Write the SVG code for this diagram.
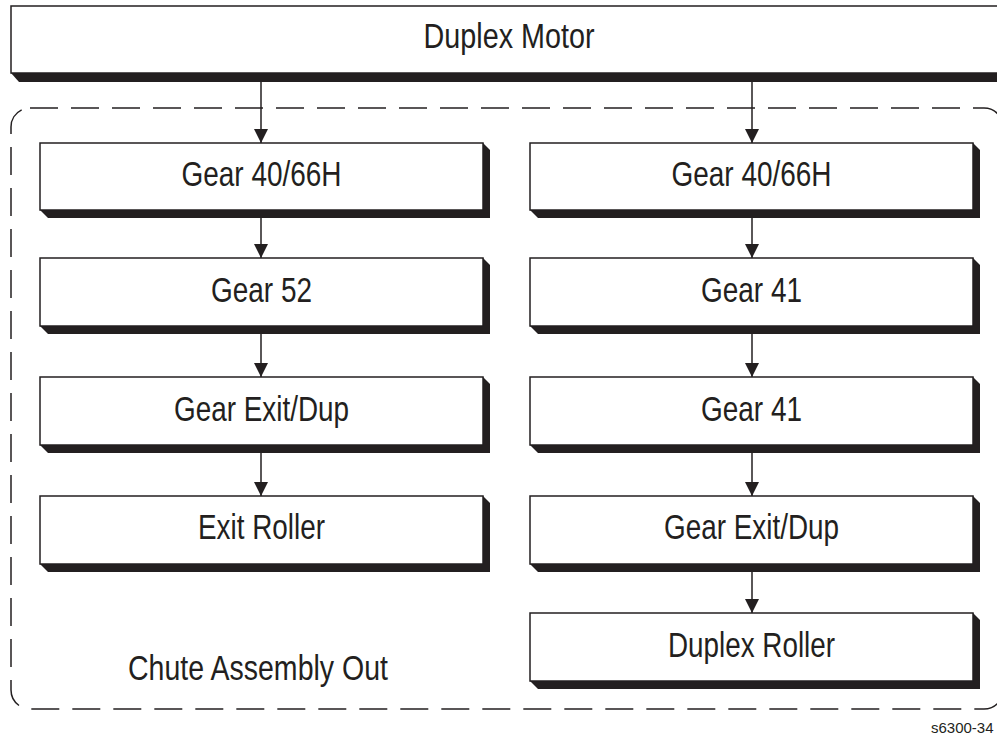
<svg xmlns="http://www.w3.org/2000/svg" width="997" height="740" viewBox="0 0 997 740">
<style>
.bg{fill:#fff}
.box{fill:#fff;stroke:#231f20;stroke-width:1.5}
.sh{fill:#231f20}
.lbl{font-family:"Liberation Sans",Arial,sans-serif;font-size:35px;fill:#231f20;text-anchor:middle}
.dash{fill:none;stroke:#231f20;stroke-width:1.5;stroke-dasharray:28 13}
.conn{stroke:#231f20;stroke-width:1.5;fill:none}
</style>
<defs>
<marker id="ah" viewBox="0 0 14 14" refX="14" refY="7" markerWidth="14" markerHeight="14" markerUnits="userSpaceOnUse" orient="auto">
<path d="M0,0 L14,7 L0,14 Z" fill="#231f20"/>
</marker>
</defs>
<rect class="bg" x="0" y="0" width="997" height="740"/>

<g id="chute">
<rect class="dash" x="11" y="108" width="992" height="601" rx="19" ry="19"/>
<text class="lbl" x="128" y="680" style="text-anchor:start" textLength="260" lengthAdjust="spacingAndGlyphs">Chute Assembly Out</text>
</g>

<g id="motor">
<polygon class="sh" points="1007,6 1015,14 1015,82 19,82 11,73"/>
<rect class="box" x="11" y="6" width="996" height="67"/>
<text class="lbl" x="509" y="48" textLength="171" lengthAdjust="spacingAndGlyphs">Duplex Motor</text>
</g>

<g id="l1">
<polygon class="sh" points="483,143 490,150 490,218 48,218 40,210"/>
<rect class="box" x="40" y="143" width="443" height="67"/>
<text class="lbl" x="261.5" y="186" textLength="160" lengthAdjust="spacingAndGlyphs">Gear 40/66H</text>
</g>
<g id="l2">
<polygon class="sh" points="483,258 490,265 490,334 48,334 40,326"/>
<rect class="box" x="40" y="258" width="443" height="68"/>
<text class="lbl" x="261.5" y="301.5" textLength="101" lengthAdjust="spacingAndGlyphs">Gear 52</text>
</g>
<g id="l3">
<polygon class="sh" points="483,377 490,384 490,453 48,453 40,445"/>
<rect class="box" x="40" y="377" width="443" height="68"/>
<text class="lbl" x="261.5" y="420.5" textLength="175" lengthAdjust="spacingAndGlyphs">Gear Exit/Dup</text>
</g>
<g id="l4">
<polygon class="sh" points="483,496 490,503 490,572 48,572 40,564"/>
<rect class="box" x="40" y="496" width="443" height="68"/>
<text class="lbl" x="261.5" y="539" textLength="127" lengthAdjust="spacingAndGlyphs">Exit Roller</text>
</g>

<g id="r1">
<polygon class="sh" points="973,143 980,150 980,218 538,218 530,210"/>
<rect class="box" x="530" y="143" width="443" height="67"/>
<text class="lbl" x="751.5" y="186" textLength="160" lengthAdjust="spacingAndGlyphs">Gear 40/66H</text>
</g>
<g id="r2">
<polygon class="sh" points="973,258 980,265 980,334 538,334 530,326"/>
<rect class="box" x="530" y="258" width="443" height="68"/>
<text class="lbl" x="751.5" y="301.5" textLength="101" lengthAdjust="spacingAndGlyphs">Gear 41</text>
</g>
<g id="r3">
<polygon class="sh" points="973,377 980,384 980,453 538,453 530,445"/>
<rect class="box" x="530" y="377" width="443" height="68"/>
<text class="lbl" x="751.5" y="420.5" textLength="101" lengthAdjust="spacingAndGlyphs">Gear 41</text>
</g>
<g id="r4">
<polygon class="sh" points="973,496 980,503 980,572 538,572 530,564"/>
<rect class="box" x="530" y="496" width="443" height="68"/>
<text class="lbl" x="751.5" y="539" textLength="175" lengthAdjust="spacingAndGlyphs">Gear Exit/Dup</text>
</g>
<g id="r5">
<polygon class="sh" points="973,613 980,620 980,689 538,689 530,681"/>
<rect class="box" x="530" y="613" width="443" height="68"/>
<text class="lbl" x="751.5" y="656.5" textLength="167" lengthAdjust="spacingAndGlyphs">Duplex Roller</text>
</g>

<g id="connectors">
<line class="conn" x1="261" y1="82" x2="261" y2="143" marker-end="url(#ah)"/>
<line class="conn" x1="752" y1="82" x2="752" y2="143" marker-end="url(#ah)"/>
<line class="conn" x1="261" y1="218" x2="261" y2="258" marker-end="url(#ah)"/>
<line class="conn" x1="261" y1="334" x2="261" y2="377" marker-end="url(#ah)"/>
<line class="conn" x1="261" y1="453" x2="261" y2="496" marker-end="url(#ah)"/>
<line class="conn" x1="752" y1="218" x2="752" y2="258" marker-end="url(#ah)"/>
<line class="conn" x1="752" y1="334" x2="752" y2="377" marker-end="url(#ah)"/>
<line class="conn" x1="752" y1="453" x2="752" y2="496" marker-end="url(#ah)"/>
<line class="conn" x1="752" y1="572" x2="752" y2="613" marker-end="url(#ah)"/>
</g>

<text x="931" y="733" style="font-family:'Liberation Sans',Arial,sans-serif;font-size:15px;fill:#231f20">s6300-34</text>
</svg>
